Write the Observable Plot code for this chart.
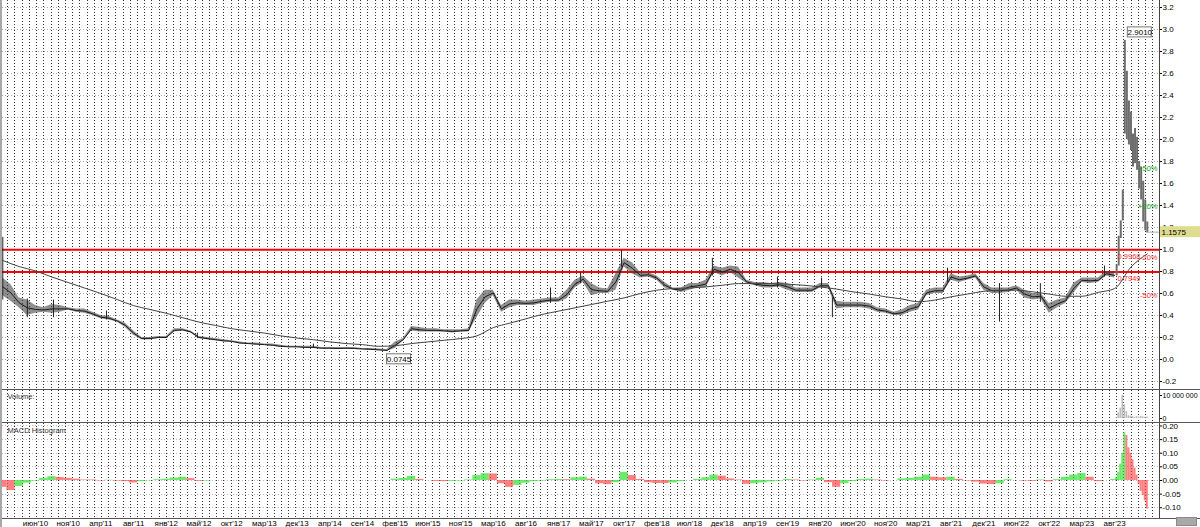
<!DOCTYPE html>
<html><head><meta charset="utf-8">
<script src="https://cdn.jsdelivr.net/npm/d3@7"></script>
<script src="https://cdn.jsdelivr.net/npm/@observablehq/plot@0.6"></script>
<style>
html,body{margin:0;padding:0;background:#fff;}
#chart{position:relative;width:1198px;height:527px;border-left:2px solid #a8a8a8;overflow:hidden;font-family:"Liberation Sans",Arial,sans-serif;}
.panel{border-bottom:1px solid #555;}
#chart svg{display:block;overflow:visible;}
#btn{position:absolute;right:3px;bottom:1px;width:19px;height:7px;background:#a9a9a9;border:1px solid #8a8a8a;}
</style></head><body>
<div id="chart"><div id="price" class="panel"></div><div id="volume" class="panel"></div><div id="macd" class="panel"></div><div id="axis"></div><div id="btn"></div></div>
<script>
// ---- x-axis categories (one label per slot) ----
const tickLabels = ["июн'10","ноя'10","апр'11","авг'11","янв'12","май'12","окт'12","мар'13","дек'13","апр'14","сен'14","фев'15","июн'15","ноя'15","мар'16","авг'16","янв'17","май'17","окт'17","фев'18","июл'18","дек'18","апр'19","сен'19","янв'20","июн'20","ноя'20","мар'21","авг'21","дек'21","июн'22","окт'22","мар'23","авг'23"];

// ---- price range per quarter-slot (starting at slot -1) ----
const priceLow = [0.58,0.53,0.47,0.40,0.42,0.43,0.42,0.43,0.45,0.43,0.42,0.40,0.37,0.36,0.34,0.29,0.22,0.18,0.18,0.19,0.19,0.25,0.26,0.24,0.19,0.18,0.17,0.16,0.16,0.14,0.14,0.13,0.13,0.12,0.11,0.11,0.11,0.10,0.10,0.095,0.095,0.09,0.095,0.09,0.09,0.085,0.08,0.0745,0.10,0.17,0.26,0.25,0.25,0.25,0.25,0.24,0.25,0.25,0.38,0.51,0.58,0.43,0.47,0.49,0.49,0.49,0.51,0.52,0.52,0.55,0.65,0.70,0.58,0.60,0.60,0.63,0.84,0.78,0.74,0.75,0.72,0.65,0.63,0.61,0.63,0.65,0.65,0.79,0.76,0.79,0.74,0.69,0.67,0.65,0.65,0.66,0.63,0.61,0.61,0.61,0.65,0.65,0.46,0.47,0.47,0.47,0.46,0.43,0.42,0.40,0.40,0.43,0.45,0.58,0.60,0.60,0.72,0.70,0.72,0.74,0.63,0.60,0.60,0.61,0.63,0.56,0.54,0.55,0.42,0.47,0.51,0.60,0.70,0.69,0.70,0.76,0.74];
const priceHigh = [0.74,0.68,0.56,0.54,0.49,0.47,0.50,0.49,0.47,0.46,0.46,0.43,0.40,0.39,0.36,0.33,0.26,0.20,0.20,0.21,0.21,0.28,0.28,0.26,0.21,0.20,0.19,0.18,0.17,0.16,0.15,0.15,0.14,0.14,0.13,0.12,0.12,0.12,0.12,0.11,0.11,0.11,0.11,0.11,0.10,0.10,0.095,0.09,0.16,0.19,0.30,0.29,0.28,0.28,0.27,0.27,0.27,0.28,0.54,0.63,0.63,0.49,0.54,0.54,0.53,0.54,0.55,0.56,0.56,0.63,0.72,0.76,0.69,0.65,0.64,0.78,0.92,0.88,0.79,0.79,0.76,0.70,0.65,0.65,0.69,0.69,0.72,0.85,0.83,0.85,0.84,0.72,0.70,0.70,0.69,0.70,0.69,0.65,0.65,0.65,0.69,0.69,0.53,0.52,0.52,0.52,0.51,0.47,0.46,0.43,0.45,0.49,0.51,0.63,0.65,0.65,0.78,0.75,0.76,0.78,0.69,0.65,0.65,0.65,0.67,0.63,0.60,0.60,0.51,0.54,0.56,0.69,0.74,0.74,0.74,0.80,0.79];

// ---- single tall bars (slot position, low, high) ----
const wickT    = [-1.0,-0.25,0.55,2.17,4.95,8.5,15.75,16.67,17.92,20.70,22.69,24.04,24.37,27.89,29.48,30.73,32.69];
const wickLow  = [0.54,0.38,0.38,0.36,0.19,0.10,0.51,0.69,0.84,0.76,0.65,0.65,0.38,0.70,0.34,0.52,0.75];
const wickHigh = [1.11,0.55,0.54,0.44,0.24,0.14,0.65,0.79,0.99,0.92,0.75,0.74,0.56,0.83,0.69,0.69,0.85];

// ---- final rally bars (1/16 slot apart, after slot 33) ----
const spikeLow  = [0.76,0.85,1.10,1.26,2.05,2.00,1.95,1.90,1.75,1.78,1.72,1.55,1.45,1.25,1.17,1.15];
const spikeHigh = [0.86,1.12,1.26,1.54,2.901,2.62,2.35,2.25,2.05,2.10,2.02,1.80,1.75,1.62,1.45,1.25];
const spikeVol  = [0.3e6,2.5e6,4.5e6,10e6,6e6,3e6,1.2e6,1.0e6,0.8e6,0.5e6,0.8e6,0.6e6,1.0e6,0.7e6,0.5e6,0.6e6];
const spikeMacd = [0.01,0.03,0.06,0.10,0.175,0.165,0.12,0.10,0.075,0.045,0.02,-0.015,-0.04,-0.055,-0.075,-0.105];

// ---- moving average per half-slot (starting at slot -1) ----
const maValues = [0.90,0.845,0.805,0.75,0.70,0.65,0.60,0.545,0.49,0.455,0.42,0.38,0.34,0.31,0.28,0.26,0.24,0.215,0.195,0.18,0.16,0.145,0.135,0.12,0.125,0.145,0.16,0.175,0.19,0.215,0.29,0.33,0.37,0.41,0.44,0.47,0.50,0.53,0.56,0.60,0.63,0.645,0.65,0.66,0.675,0.69,0.69,0.69,0.685,0.675,0.66,0.64,0.615,0.595,0.57,0.55,0.525,0.54,0.57,0.595,0.62,0.63,0.63,0.615,0.595,0.575,0.575,0.61,0.645,0.84,0.96];

// ---- MACD histogram per quarter-slot (starting at slot -1) ----
const macdValues = [-0.025,-0.037,-0.022,-0.010,-0.002,0.008,0.014,0.011,0.008,0.005,0.002,0.002,-0.002,0.001,-0.002,-0.004,-0.009,-0.004,-0.001,0.003,0.005,0.009,0.012,0.007,-0.003,-0.002,
 0,0,0,0,0,0,0,0,0,0,0,0,0,0,0,0,0,0,0,0,0,0,
 0.005,0.008,0.015,0.004,0,-0.003,-0.004,-0.003,-0.002,0.002,0.018,0.025,0.024,-0.012,-0.025,-0.018,-0.010,-0.004,-0.002,0.003,0.004,0.003,0.010,0.012,0.005,-0.012,-0.015,-0.008,0.030,0.018,0.004,-0.008,-0.011,-0.011,-0.009,-0.004,0,0.004,0.010,0.020,0.016,0.006,0.002,-0.014,-0.012,-0.009,-0.005,-0.002,0.004,0.002,-0.002,0.002,0.008,-0.008,-0.025,-0.012,-0.004,0.004,0.005,0.002,-0.002,0,0.006,0.008,0.012,0.020,0.012,0.010,0.012,0.004,-0.002,-0.006,-0.013,-0.015,-0.012,0.003,0,-0.002,-0.003,0.002,-0.005,0.003,0.012,0.020,0.026,0.012,-0.004,0,0.004];

// ---- levels and annotations ----
const redLevels = [0.9968, 0.7949];
const lastClose = 1.1575;
const pctLevels = [0.5, 0.2, -0.2, -0.5];
const peak = {t: 33.3125, v: 2.9010};
const trough = {t: 10.75, v: 0.0745};
const priceTicks = [-0.2,0,0.2,0.4,0.6,0.8,1.0,1.2,1.4,1.6,1.8,2.0,2.2,2.4,2.6,2.8,3.0,3.2];
const volTicks = [0, 10000000];
const macdTicks = [-0.10,-0.05,0,0.05,0.10,0.15,0.20];

// ---- build tables ----
const band = priceLow.map((lo, i) => ({t: -1 + i / 4, lo, hi: priceHigh[i], mid: (lo + priceHigh[i]) / 2}));
const wicks = wickT.map((t, i) => ({t, lo: wickLow[i], hi: wickHigh[i]}));
const spike = spikeLow.map((lo, j) => ({t: 33 + (j + 1) / 16, lo, hi: spikeHigh[j], vol: spikeVol[j], macd: spikeMacd[j]}));
const ma = maValues.map((v, i) => ({t: -1 + i / 2, v}));
const hist = macdValues.map((v, i) => ({t: -1 + i / 4, v, w: 1 / 8}))
  .concat(spike.map(d => ({t: d.t, v: d.macd, w: 1 / 32})));
hist.forEach((d, i) => { d.color = (i > 0 && d.v > hist[i - 1].v) ? "#2fe02f" : "#ff4a4a"; });
const histShown = hist.filter(d => d.v !== 0);
const lastT = spike[spike.length - 1].t;

const FONT = '"Liberation Sans", Arial, sans-serif';
const xDomain = [-1.009, 34.373];
const vgrid = d3.range(-0.847, 34.37, 0.2202);
const base = {
  width: 1198, marginLeft: 0, marginRight: 41, marginTop: 0, marginBottom: 0,
  style: {fontFamily: FONT, fontSize: "8px", background: "transparent", overflow: "visible", color: "#000"},
  x: {domain: xDomain, axis: null},
  color: {type: "identity"}
};
const xmax = xDomain[1];
const gridX = () => Plot.ruleX(vgrid, {stroke: "#000", strokeOpacity: 0.8, strokeDasharray: "1,2", shapeRendering: "crispEdges"});
const edge = () => Plot.ruleX([xmax], {stroke: "#444"});

// ---- price panel ----
document.getElementById("price").append(Plot.plot({
  ...base, height: 389,
  y: {domain: [-0.27273, 3.26364], axis: null},
  marks: [
    Plot.ruleY(priceTicks, {stroke: "#a8a8a8", strokeDasharray: "1,2", shapeRendering: "crispEdges"}),
    gridX(),
    Plot.ruleY(redLevels, {stroke: "#ff0000", strokeWidth: 2}),
    Plot.areaY(band, {x: "t", y1: "lo", y2: "hi", fill: "#444", fillOpacity: 0.6}),
    Plot.line(band, {x: "t", y: "mid", stroke: "#1a1a1a", strokeWidth: 1}),
    Plot.ruleX(wicks, {x: "t", y1: "lo", y2: "hi", stroke: "#222"}),
    Plot.ruleX(spike, {x: "t", y1: "lo", y2: "hi", stroke: "#6e6e6e", strokeWidth: 2}),
    Plot.line(ma, {x: "t", y: "v", stroke: "#444", strokeWidth: 1, curve: "monotone-x"}),
    Plot.ruleY([lastClose], {x1: lastT, x2: xmax, stroke: "#b0b0b0"}),
    Plot.text(redLevels, {y: d => d, text: d => d.toFixed(4), frameAnchor: "right", textAnchor: "end", dx: -19, dy: 6.5, fill: "#ff2a2a", fontSize: 7.5}),
    Plot.text(pctLevels, {y: p => lastClose * (1 + p), text: p => (p > 0 ? "+" : "-") + Math.round(Math.abs(p) * 100) + "%", frameAnchor: "right", textAnchor: "end", dx: -2, fill: p => p > 0 ? "#10a010" : "#ff3030", fontSize: 7.5}),
    Plot.rect([peak], {x1: "t", x2: "t", y1: "v", y2: "v", dx: 15, dy: -8, insetLeft: -12, insetRight: -12, insetTop: -5, insetBottom: -5, fill: "#fff", stroke: "#777"}),
    Plot.text([peak], {x: "t", y: "v", dx: 15, dy: -8, text: d => d.v.toFixed(4)}),
    Plot.rect([trough], {x1: "t", x2: "t", y1: "v", y2: "v", dx: 12, dy: 8, insetLeft: -12, insetRight: -12, insetTop: -5, insetBottom: -5, fill: "#fff", stroke: "#777"}),
    Plot.text([trough], {x: "t", y: "v", dx: 12, dy: 8, text: d => d.v.toFixed(4)}),
    edge(),
    Plot.axisY({anchor: "right", label: null, ticks: priceTicks, tickSize: 2, tickPadding: 1, tickFormat: d => d.toFixed(1)}),
    Plot.rect([lastClose], {x1: () => xmax, x2: () => xmax, y1: d => d, y2: d => d, insetLeft: 1, insetRight: -41, insetTop: -5.5, insetBottom: -5.5, fill: "#dedc8e"}),
    Plot.text([lastClose], {y: d => d, text: d => d.toFixed(4), frameAnchor: "right", textAnchor: "start", dx: 2})
  ]
}));

// ---- volume panel ----
document.getElementById("volume").append(Plot.plot({
  ...base, height: 32,
  y: {domain: [-1.739e6, 12.174e6], axis: null},
  marks: [
    gridX(),
    Plot.rect(spike, {x1: d => d.t - 1 / 40, x2: d => d.t + 1 / 40, y1: 0, y2: "vol", fill: "#bdbdbd"}),
    edge(),
    Plot.axisY({anchor: "right", label: null, ticks: volTicks, tickSize: 2, tickPadding: 1, fontSize: 7, tickFormat: d => d3.format(",")(d).replace(/,/g, " ")}),
    Plot.text(["Volume:"], {frameAnchor: "top-left", text: d => d, dx: 5, dy: 3, lineAnchor: "top", fill: "#333", fontSize: 7.5})
  ]
}));

// ---- MACD histogram panel ----
document.getElementById("macd").append(Plot.plot({
  ...base, height: 95,
  y: {domain: [-0.13945, 0.20917], axis: null},
  marks: [
    Plot.ruleY(macdTicks, {stroke: "#b8b8b8", strokeDasharray: "1,2", shapeRendering: "crispEdges"}),
    gridX(),
    Plot.rect(histShown, {x1: d => d.t - d.w, x2: d => d.t + d.w, y1: 0, y2: "v", fill: "color", fillOpacity: 0.7}),
    edge(),
    Plot.axisY({anchor: "right", label: null, ticks: macdTicks, tickSize: 2, tickPadding: 1, tickFormat: d => d.toFixed(2)}),
    Plot.text(["MACD Histogram"], {frameAnchor: "top-left", text: d => d, dx: 5, dy: 4, lineAnchor: "top", fill: "#333", fontSize: 7.5})
  ]
}));

// ---- bottom x labels ----
document.getElementById("axis").append(Plot.plot({
  ...base, height: 8,
  y: {axis: null},
  marks: [
    Plot.text(tickLabels, {x: (d, i) => i, frameAnchor: "middle", text: d => d, fill: "#000", fontSize: 8})
  ]
}));
</script>
</body></html>
